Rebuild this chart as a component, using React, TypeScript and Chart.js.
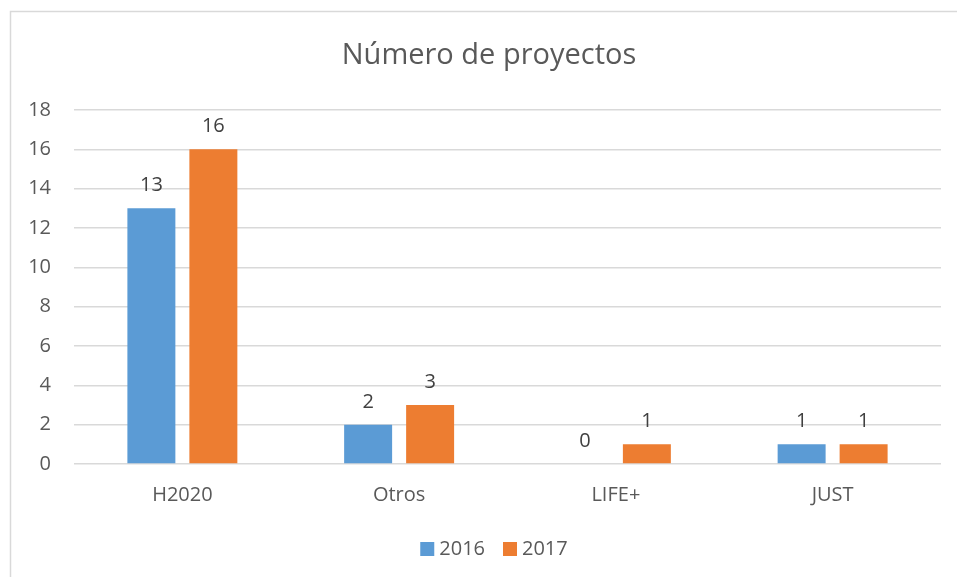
import React, { useEffect, useRef } from "react";
import { Chart, registerables } from "chart.js";

Chart.register(...registerables);

const chartTitle = "Número de proyectos";
const categories = ["H2020", "Otros", "LIFE+", "JUST"];
const seriesNames = ["2016", "2017"];
const values2016 = [13, 2, 0, 1];
const values2017 = [16, 3, 1, 1];
const seriesColors = ["#5b9bd5", "#ed7d31"];
const yMin = 0;
const yMax = 18;
const yStep = 2;

const FONT = "'Open Sans', 'Liberation Sans', sans-serif";
const TEXT = "#595959";
const LABEL = "#404040";
const GRID = "#d9d9d9";

const framePlugin = {
  id: "frame",
  beforeDraw(chart: any) {
    const ctx = chart.ctx;
    ctx.save();
    ctx.fillStyle = "#ffffff";
    ctx.fillRect(0, 0, chart.width, chart.height);
    ctx.strokeStyle = GRID;
    ctx.lineWidth = 1.5;
    ctx.strokeRect(10.5, 11.5, 990, 700);
    ctx.restore();
  },
};

const titlePlugin = {
  id: "customTitle",
  afterDraw(chart: any) {
    const ctx = chart.ctx;
    ctx.save();
    ctx.fillStyle = TEXT;
    ctx.font = `29px ${FONT}`;
    ctx.textAlign = "center";
    ctx.textBaseline = "alphabetic";
    ctx.fillText(chartTitle, 489, 64);
    ctx.restore();
  },
};

const valueLabelPlugin = {
  id: "valueLabels",
  afterDatasetsDraw(chart: any) {
    const ctx = chart.ctx;
    ctx.save();
    ctx.fillStyle = LABEL;
    ctx.font = `20px ${FONT}`;
    ctx.textAlign = "center";
    ctx.textBaseline = "alphabetic";
    chart.data.datasets.forEach((ds: any, di: number) => {
      const meta = chart.getDatasetMeta(di);
      meta.data.forEach((el: any, i: number) => {
        ctx.fillText(String(ds.data[i]), el.x, el.y - 17);
      });
    });
    ctx.restore();
  },
};

const legendPlugin = {
  id: "customLegend",
  afterDraw(chart: any) {
    const ctx = chart.ctx;
    ctx.save();
    ctx.font = `20px ${FONT}`;
    ctx.textBaseline = "middle";
    ctx.textAlign = "left";
    const box = 14;
    const gap = 5;
    const itemGap = 18;
    const items = chart.data.datasets.map((ds: any) => ({
      label: ds.label,
      color: ds.backgroundColor,
      w: ctx.measureText(ds.label).width,
    }));
    const total = items.reduce((s: number, it: any) => s + box + gap + it.w, 0) + itemGap * (items.length - 1);
    let x = 494 - total / 2;
    const cy = 549;
    items.forEach((it: any) => {
      ctx.fillStyle = it.color;
      ctx.fillRect(x, cy - box / 2, box, box);
      x += box + gap;
      ctx.fillStyle = TEXT;
      ctx.fillText(it.label, x, cy);
      x += it.w + itemGap;
    });
    ctx.restore();
  },
};

export default function App() {
  const ref = useRef<HTMLCanvasElement | null>(null);
  useEffect(() => {
    if (!ref.current) return;
    const chart = new Chart(ref.current, {
      type: "bar",
      data: {
        labels: categories,
        datasets: [
          {
            label: seriesNames[0],
            data: values2016,
            backgroundColor: seriesColors[0],
            categoryPercentage: 0.572,
            barPercentage: 0.774,
          },
          {
            label: seriesNames[1],
            data: values2017,
            backgroundColor: seriesColors[1],
            categoryPercentage: 0.572,
            barPercentage: 0.774,
          },
        ],
      },
      options: {
        responsive: false,
        animation: false,
        devicePixelRatio: 1,
        layout: { padding: { left: 10, right: 16, top: 110, bottom: 0 } },
        plugins: {
          legend: { display: false },
          title: { display: false },
          tooltip: { enabled: false },
        },
        scales: {
          x: {
            grid: { display: false, drawTicks: false },
            border: { display: false },
            ticks: { color: TEXT, font: { family: FONT, size: 20 }, padding: 19 },
            afterFit: (s: any) => {
              s.height = 113;
            },
          },
          y: {
            min: yMin,
            max: yMax,
            grid: { color: GRID, lineWidth: 1.5, drawTicks: false },
            border: { display: false },
            ticks: { stepSize: yStep, color: TEXT, font: { family: FONT, size: 20 }, padding: 23 },
            afterFit: (s: any) => {
              s.width = 64;
            },
          },
        },
      },
      plugins: [framePlugin, titlePlugin, valueLabelPlugin, legendPlugin],
    });
    return () => chart.destroy();
  }, []);
  return (
    <div style={{ position: "absolute", left: 0, top: 0, width: 957, height: 577 }}>
      <canvas ref={ref} width={957} height={577} style={{ display: "block" }} />
    </div>
  );
}
